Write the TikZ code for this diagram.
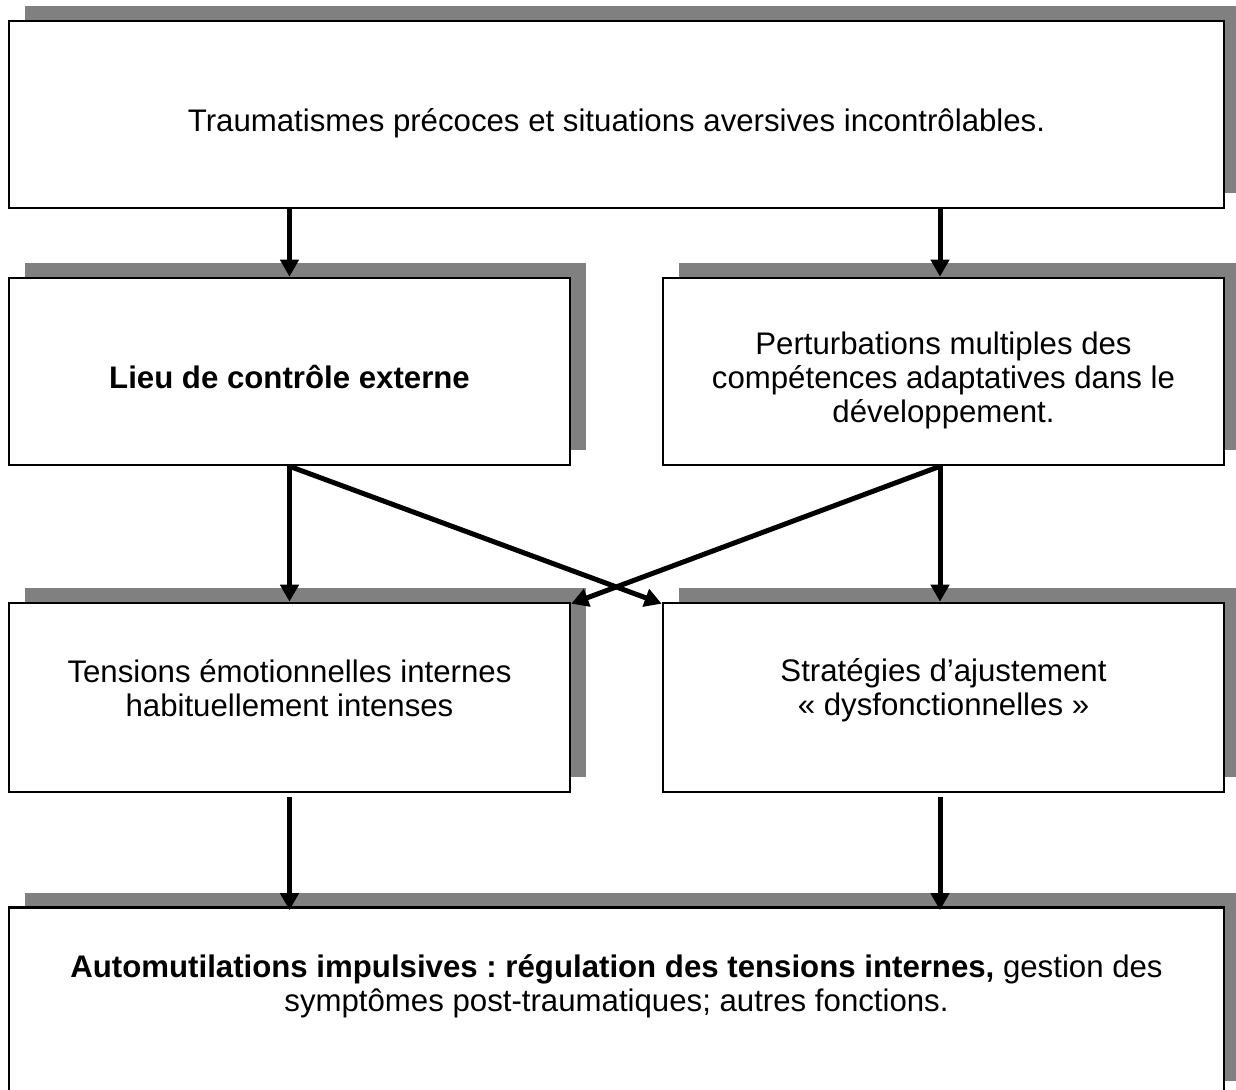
\documentclass[tikz,border=0pt]{standalone}
\usepackage{fontspec}
\setmainfont{Liberation Sans}
\frenchspacing
\usetikzlibrary{arrows.meta,shadows,calc}
\definecolor{shadowgray}{HTML}{808080}
\tikzset{
  box/.style={draw=black, line width=1.3pt, fill=white, inner sep=0pt,
    drop shadow={shadow xshift=8pt, shadow yshift=7.5pt, fill=shadowgray, opacity=1}},
  widebox/.style={box, minimum width=607.5pt, minimum height=93.5pt},
  halfbox/.style={box, minimum width=280.5pt, minimum height=93.5pt},
  txt/.style={align=center, inner sep=0pt, font=\fontsize{15.6}{17}\selectfont},
  arr/.style={line width=2.5pt, -{Triangle[width=9pt,length=8.5pt]}}
}
\begin{document}
\begin{tikzpicture}[x=0.5pt,y=-0.5pt]
\useasboundingbox (0,0) rectangle (1236,1090);
\clip (0,0) rectangle (1236,1090);
% boxes
\node[widebox] (b1) at (616.5,114.5) {};
\node[halfbox] (b2) at (289.5,371.5) {};
\node[halfbox] (b3) at (943.5,371.5) {};
\node[halfbox, minimum height=94.5pt] (b4) at (289.5,697.5) {};
\node[halfbox, minimum height=94.5pt] (b5) at (943.5,697.5) {};
\node[widebox, minimum height=94pt] (b6) at (616.5,1001.5) {};
% texts
\node[txt] (t1) at (616.5,123) {Traumatismes précoces et situations aversives incontrôlables.};
\node[txt] (t2) at (289.5,377) {\textbf{Lieu de contrôle externe}};
\node[txt] (t3) at (943.5,380) {Perturbations multiples des\\compétences adaptatives dans le\\développement.};
\node[txt] (t4) at (289.5,688) {Tensions émotionnelles internes\\habituellement intenses};
\node[txt] (t5) at (943.5,690) {Stratégies d’ajustement\\« dysfonctionnelles »};
\node[txt] (t6) at (616.5,986) {\textbf{Automutilations impulsives : régulation des tensions internes,} gestion des\\symptômes post-traumatiques; autres fonctions.};
% connectors
\draw[arr] (b1.south -| b2.north) -- (b2.north);
\draw[arr] ([xshift=-1.75pt]b1.south -| b3.north) -- ([xshift=-1.75pt]b3.north);
\draw[arr] (b2.south) -- (b4.north);
\draw[arr] ([xshift=-1.75pt]b3.south) -- ([xshift=-1.75pt]b5.north);
\draw[arr] (b2.south) -- ([yshift=-1pt]b5.north west);
\draw[arr] ([xshift=-1.75pt]b3.south) -- ([yshift=-1pt]b4.north east);
\draw[arr] ([yshift=-2pt]b4.south) -- ([yshift=-2pt]b6.north -| b4.south);
\draw[arr] ([yshift=-2pt,xshift=-1.75pt]b5.south) -- ([yshift=-2pt,xshift=-1.75pt]b6.north -| b5.south);
\end{tikzpicture}
\end{document}
